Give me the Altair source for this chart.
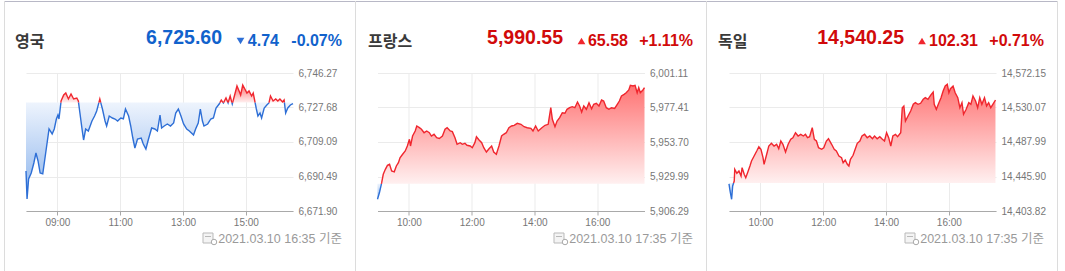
import altair as alt
import pandas as pd

# ---------------- data ----------------
uk_time = ["08:00","08:02","08:05","08:10","08:15","08:19","08:23","08:27","08:32","08:36",
           "08:40","08:44","08:50","08:54","08:58","09:01","09:03","09:07","09:12","09:16",
           "09:21","09:26","09:31","09:37","09:40","09:43","09:47","09:50","09:54","09:59",
           "10:06","10:11","10:15","10:21","10:26","10:31","10:34","10:39","10:45","10:50",
           "10:55","11:01","11:06","11:10","11:16","11:20","11:24","11:28","11:33","11:40",
           "11:44","11:49","11:54","12:00","12:06","12:11","12:16","12:19","12:24","12:30",
           "12:36","12:42","12:46","12:51","12:56","13:01","13:07","13:12","13:16","13:20",
           "13:24","13:29","13:33","13:37","13:40","13:47","13:53","13:58","14:03","14:09",
           "14:13","14:17","14:22","14:26","14:30","14:34","14:39","14:43","14:47","14:50",
           "14:54","14:58","15:02","15:06","15:11","15:14","15:17","15:20","15:23","15:27",
           "15:30","15:35","15:40","15:44","15:47","15:52","15:57","16:01","16:05","16:10",
           "16:13","16:16","16:20","16:25","16:30"]
uk_value = [6693.46,6678.37,6689.15,6692.38,6697.77,6703.16,6698.85,6692.38,6691.90,6699.92,
            6708.01,6716.09,6713.40,6716.09,6721.48,6723.64,6721.48,6731.18,6734.41,6735.49,
            6732.26,6734.95,6732.26,6732.80,6731.18,6724.71,6716.09,6710.16,6716.09,6715.01,
            6720.40,6723.10,6725.79,6732.26,6726.87,6720.40,6717.71,6723.10,6722.02,6721.48,
            6720.40,6722.02,6721.60,6726.87,6723.10,6717.71,6711.24,6705.85,6710.70,6711.24,
            6708.01,6705.31,6710.70,6716.63,6716.09,6715.01,6723.64,6716.63,6717.71,6718.79,
            6717.71,6719.32,6724.71,6726.87,6723.10,6718.79,6716.09,6715.01,6713.94,6712.86,
            6716.09,6719.32,6726.87,6720.40,6717.71,6718.79,6721.48,6722.02,6727.41,6729.56,
            6731.72,6730.10,6732.80,6730.10,6733.88,6729.56,6734.95,6739.26,6736.57,6734.41,
            6739.80,6737.65,6735.49,6736.57,6733.88,6735.49,6731.18,6726.87,6723.10,6724.71,
            6722.02,6727.41,6729.03,6730.10,6733.88,6731.18,6732.26,6731.18,6732.26,6730.64,
            6731.72,6724.71,6727.41,6729.03,6729.80]

fr_time = ["09:00","09:04","09:08","09:11","09:15","09:19","09:23","09:27","09:32","09:36",
           "09:40","09:43","09:48","09:53","09:57","10:01","10:03","10:07","10:12","10:15",
           "10:20","10:24","10:29","10:34","10:39","10:43","10:48","10:53","10:58","11:04",
           "11:09","11:13","11:19","11:23","11:28","11:32","11:38","11:42","11:47","11:51",
           "11:57","12:01","12:06","12:09","12:14","12:19","12:23","12:28","12:33","12:38",
           "12:42","12:47","12:52","12:57","13:01","13:06","13:11","13:16","13:21","13:27",
           "13:34","13:40","13:46","13:53","13:57","14:02","14:07","14:14","14:20","14:26",
           "14:31","14:34","14:39","14:43","14:48","14:53","14:58","15:02","15:07","15:12",
           "15:17","15:22","15:26","15:30","15:34","15:39","15:44","15:49","15:53","15:58",
           "16:03","16:08","16:12","16:17","16:22","16:27","16:33","16:38","16:42","16:46",
           "16:51","16:55","17:00","17:03","17:08","17:12","17:16","17:19","17:22","17:27",
           "17:30"]
fr_value = [5914.33,5919.35,5925.74,5931.51,5934.94,5937.69,5938.38,5933.77,5933.20,5937.21,
            5939.48,5942.91,5945.25,5947.52,5950.95,5955.56,5950.95,5957.82,5961.26,5964.69,
            5963.53,5962.43,5960.09,5961.26,5960.09,5957.82,5958.99,5956.66,5956.10,5957.82,
            5962.43,5963.53,5961.26,5960.80,5956.66,5952.12,5953.22,5952.12,5952.81,5951.43,
            5950.95,5949.78,5953.22,5957.34,5955.07,5953.22,5949.78,5946.83,5949.10,5950.95,
            5946.83,5945.25,5950.95,5957.82,5958.99,5960.09,5963.53,5964.69,5965.17,5966.55,
            5965.86,5964.21,5963.53,5963.10,5961.26,5964.69,5961.26,5963.53,5965.17,5965.86,
            5977.27,5969.30,5964.21,5968.13,5970.40,5973.83,5973.42,5976.17,5977.27,5977.95,
            5977.27,5981.18,5978.44,5974.31,5978.44,5976.17,5980.70,5976.58,5979.60,5980.29,
            5978.44,5982.56,5981.87,5977.27,5976.17,5977.27,5976.80,5979.60,5981.87,5985.31,
            5986.47,5987.57,5989.43,5992.66,5992.18,5992.66,5987.57,5991.01,5987.57,5989.43,
            5991.01]

de_time = ["09:00","09:02","09:05","09:07","09:10","09:11","09:15","09:19","09:23","09:25",
           "09:29","09:32","09:36","09:40","09:43","09:48","09:53","09:57","10:01","10:05",
           "10:07","10:12","10:16","10:21","10:26","10:31","10:35","10:39","10:43","10:48",
           "10:53","10:58","11:02","11:07","11:12","11:17","11:22","11:26","11:30","11:34",
           "11:39","11:43","11:47","11:51","11:57","12:01","12:06","12:10","12:16","12:21",
           "12:25","12:30","12:35","12:38","12:42","12:46","12:49","12:52","12:57","13:01",
           "13:05","13:10","13:14","13:19","13:24","13:29","13:34","13:38","13:43","13:48",
           "13:53","13:57","14:01","14:05","14:09","14:13","14:18","14:22","14:28","14:31",
           "14:34","14:37","14:42","14:47","14:52","14:56","15:01","15:06","15:11","15:15",
           "15:20","15:25","15:30","15:32","15:36","15:41","15:45","15:49","15:53","15:57",
           "16:00","16:03","16:08","16:12","16:17","16:21","16:25","16:28","16:33","16:38",
           "16:42","16:46","16:51","16:55","16:59","17:03","17:08","17:12","17:16","17:20",
           "17:24","17:29"]
de_value = [14436.80,14428.21,14418.09,14434.31,14440.41,14454.68,14449.80,14452.61,14446.51,14456.63,
            14448.58,14444.44,14451.39,14458.71,14464.81,14470.91,14477.01,14482.25,14479.08,14468.83,
            14460.78,14472.98,14483.10,14486.40,14483.10,14485.18,14479.81,14489.20,14485.18,14475.79,
            14485.18,14491.28,14493.23,14499.33,14495.30,14497.38,14495.30,14497.38,14493.23,14494.45,
            14505.43,14491.28,14489.20,14481.03,14479.08,14481.03,14489.20,14492.01,14485.18,14479.08,
            14477.01,14470.91,14468.83,14462.73,14466.03,14460.78,14458.71,14466.88,14471.76,14479.08,
            14486.40,14489.20,14495.30,14497.38,14493.23,14495.30,14492.01,14495.30,14492.01,14494.45,
            14491.28,14489.20,14499.33,14493.23,14483.10,14495.30,14497.38,14494.45,14499.33,14529.82,
            14531.90,14513.60,14519.70,14525.80,14533.97,14535.92,14533.97,14535.19,14540.07,14542.02,
            14540.07,14544.95,14548.97,14533.97,14527.87,14535.92,14542.02,14550.19,14556.29,14558.37,
            14548.12,14553.00,14556.29,14548.12,14542.02,14529.82,14535.92,14521.77,14527.87,14535.92,
            14533.97,14544.09,14538.00,14529.82,14542.02,14533.97,14542.02,14531.90,14535.92,14529.82,
            14533.97,14539.22]

names = ["영국", "프랑스", "독일"]
closes = [6725.60, 5990.55, 14540.25]
changes = [-4.74, 65.58, 102.31]
pcts = [-0.07, 1.11, 0.71]
stamps = ["2021.03.10 16:35 기준", "2021.03.10 17:35 기준", "2021.03.10 17:35 기준"]
uk_ticks = [6671.90, 6690.49, 6709.09, 6727.68, 6746.27]
fr_ticks = [5906.29, 5929.99, 5953.70, 5977.41, 6001.11]
de_ticks = [14403.82, 14445.90, 14487.99, 14530.07, 14572.15]
uk_hours = [9, 11, 13, 15]
fr_hours = [10, 12, 14, 16]
de_hours = [10, 12, 14, 16]
x_domains = [[8, 16.5], [9, 17.5], [9, 17.5]]

# ---------------- styling / layout ----------------
PW, PH = 267, 138
GAP = 84.5
ORIGIN_X = [26, 26 + PW + GAP, 26 + 2 * (PW + GAP)]
OY = 72
W, H = 1065, 271

RED_LINE = "#f0262e"
BLUE_LINE = "#2e6fd6"
RED_TXT = "#d10a0a"
BLUE_TXT = "#1162cc"
NUM_FONT = "Liberation Sans"
KR_FONT = "Noto Sans CJK KR"
MIX_FONT = "Liberation Sans, Noto Sans CJK KR"

title_x = [15, 368, 718]
close_right = [222, 563, 904]
tri_cx = [240.5, 581.5, 922]
chg_right = [279, 628, 978]
pct_right = [342, 693, 1044]
stamp_right = [342, 693, 1044]
icon_x = [203, 554, 905]

red_grad = alt.Gradient(gradient="linear", x1=0, y1=0, x2=0, y2=1,
                        stops=[alt.GradientStop(color="#ff7373", offset=0),
                               alt.GradientStop(color="#fff0f0", offset=1)])
blue_grad = alt.Gradient(gradient="linear", x1=0, y1=0, x2=0, y2=1,
                         stops=[alt.GradientStop(color="#eef4fd", offset=0),
                                alt.GradientStop(color="#8ab3ec", offset=1)])


def to_hours(s):
    return int(s[:2]) + int(s[3:]) / 60.0


def build(times, values, prev):
    t = [to_hours(s) for s in times]
    rows = []
    seg = 0
    for i in range(len(t)):
        v = values[i]
        side = "up" if v >= prev else "down"
        if i > 0:
            pv = values[i - 1]
            pside = "up" if pv >= prev else "down"
            if side != pside:
                frac = (prev - pv) / (v - pv)
                tc = t[i - 1] + frac * (t[i] - t[i - 1])
                rows.append(dict(t=tc, v=prev, side=pside, seg=seg))
                seg += 1
                rows.append(dict(t=tc, v=prev, side=side, seg=seg))
        rows.append(dict(t=t[i], v=v, side=side, seg=seg))
    df = pd.DataFrame(rows)
    df["hi"] = df["v"].clip(lower=prev)
    df["lo"] = df["v"].clip(upper=prev)
    df["base"] = prev
    return df


one = pd.DataFrame({"k": [0]})


def text_at(s, x, y, ox, **kw):
    return alt.Chart(pd.DataFrame({"s": [s]})).mark_text(**kw).encode(
        x=alt.value(x - ox), y=alt.value(y - OY), text="s:N")


def rule_at(x1, y1, x2, y2, ox, color, width=1):
    return alt.Chart(one).mark_rule(color=color, strokeWidth=width).encode(
        x=alt.value(x1 - ox), x2=alt.value(x2 - ox),
        y=alt.value(y1 - OY), y2=alt.value(y2 - OY))


def panel(i, times, values, ticks, hours):
    prev = round(closes[i] - changes[i], 2)
    df = build(times, values, prev)
    ox = ORIGIN_X[i]
    xs = alt.Scale(domain=x_domains[i], nice=False, zero=False)
    ys = alt.Scale(domain=[ticks[0], ticks[-1]], nice=False, zero=False)
    xaxis = alt.Axis(values=hours,
                     labelExpr="(datum.value < 10 ? '0' : '') + datum.value + ':00'",
                     grid=True, gridColor="#ebebeb", domainColor="#a9a9a9",
                     tickColor="#a9a9a9", tickSize=4, labelPadding=2,
                     labelFont=NUM_FONT, labelFontSize=10, labelColor="#777777",
                     title=None)
    yaxis = alt.Axis(orient="right", values=ticks, format=",.2f", grid=True,
                     gridColor="#ebebeb", domain=False, ticks=False, labelPadding=5,
                     labelFont=NUM_FONT, labelFontSize=10, labelColor="#777777",
                     title=None)
    base = alt.Chart(df)
    up_area = base.mark_area(color=red_grad).encode(
        x=alt.X("t:Q", scale=xs, axis=xaxis),
        y=alt.Y("hi:Q", scale=ys, axis=yaxis),
        y2=alt.Y2("base"))
    dn_area = base.mark_area(color=blue_grad).encode(
        x=alt.X("t:Q", scale=xs, axis=xaxis),
        y=alt.Y("lo:Q", scale=ys, axis=yaxis),
        y2=alt.Y2("base"))
    line = base.mark_line(strokeWidth=1.4).encode(
        x=alt.X("t:Q", scale=xs, axis=xaxis),
        y=alt.Y("v:Q", scale=ys, axis=yaxis),
        color=alt.Color("side:N", scale=alt.Scale(domain=["up", "down"],
                                                  range=[RED_LINE, BLUE_LINE]),
                        legend=None),
        detail="seg:N")

    up = changes[i] >= 0
    txt_color = RED_TXT if up else BLUE_TXT
    layers = []
    if i == 0:
        # invisible full-canvas box: fixes the page bounds
        layers.append(alt.Chart(one).mark_rect(color="white", opacity=0).encode(
            x=alt.value(0 - ox), x2=alt.value(W - ox),
            y=alt.value(0 - OY), y2=alt.value(H - OY)))
        # panel frames
        layers.append(rule_at(4, 0.5, 1058, 0.5, ox, "#b8b8c6"))
        for bx in [4.5, 355.5, 706.5, 1057.5]:
            layers.append(rule_at(bx, 0, bx, H, ox, "#dcdcdc"))
    layers += [dn_area, up_area, line]
    layers.append(text_at(names[i], title_x[i], 46, ox, font=KR_FONT, fontSize=16,
                          fontWeight="bold", color="#3a3a3a", align="left",
                          baseline="alphabetic"))
    layers.append(text_at(f"{closes[i]:,.2f}", close_right[i], 43, ox, font=NUM_FONT,
                          fontSize=19.5, fontWeight="bold", color=txt_color,
                          align="right", baseline="alphabetic"))
    layers.append(alt.Chart(one).mark_point(
        shape="triangle-up" if up else "triangle-down", filled=True, size=60,
        opacity=1, color=RED_LINE if up else BLUE_LINE).encode(
        x=alt.value(tri_cx[i] - ox), y=alt.value(40 - OY)))
    layers.append(text_at(f"{abs(changes[i]):.2f}", chg_right[i], 45, ox, font=NUM_FONT,
                          fontSize=16, fontWeight="bold", color=txt_color,
                          align="right", baseline="alphabetic"))
    layers.append(text_at(f"{pcts[i]:+.2f}%", pct_right[i], 45, ox, font=NUM_FONT,
                          fontSize=16, fontWeight="bold", color=txt_color,
                          align="right", baseline="alphabetic"))
    # timestamp icon + text
    ix = icon_x[i]
    layers.append(alt.Chart(one).mark_rect(fill="#f4f4f4", stroke="#b9b9b9",
                                           strokeWidth=1).encode(
        x=alt.value(ix - ox), x2=alt.value(ix + 10 - ox),
        y=alt.value(232 - OY), y2=alt.value(242 - OY)))
    layers.append(rule_at(ix + 2, 235.5, ix + 8, 235.5, ox, "#b9b9b9"))
    layers.append(alt.Chart(one).mark_point(shape="circle", filled=True, size=30,
                                            fill="white", stroke="#a9a9a9",
                                            strokeWidth=1, opacity=1).encode(
        x=alt.value(ix + 11 - ox), y=alt.value(241 - OY)))
    layers.append(text_at(stamps[i], stamp_right[i], 242, ox, font=MIX_FONT,
                          fontSize=12.5, color="#9a9a9a", align="right",
                          baseline="alphabetic"))
    return alt.layer(*layers).properties(width=PW, height=PH)


p1 = panel(0, uk_time, uk_value, uk_ticks, uk_hours)
p2 = panel(1, fr_time, fr_value, fr_ticks, fr_hours)
p3 = panel(2, de_time, de_value, de_ticks, de_hours)

chart = alt.hconcat(p1, p2, p3, spacing=GAP, bounds="flush").properties(
    padding=0, background="white").configure_view(strokeWidth=0)

chart.save("out.html", embed_options={"renderer": "svg", "actions": False})
